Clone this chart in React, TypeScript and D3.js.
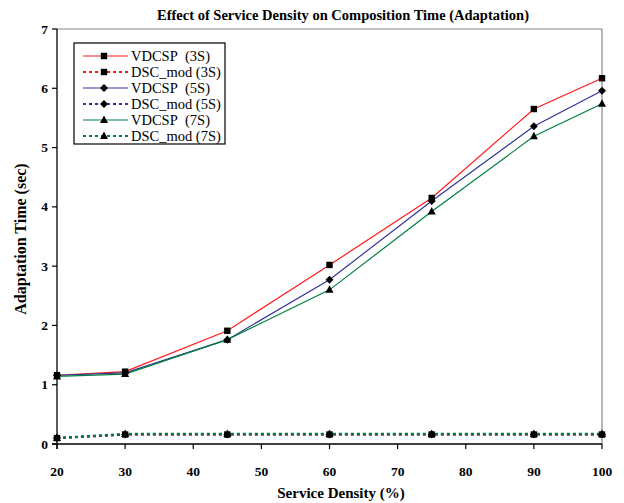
import React from "react";
import * as d3 from "d3";

const densities = [20, 30, 45, 60, 75, 90, 100];
const vdcsp3 = [1.16, 1.22, 1.91, 3.02, 4.15, 5.65, 6.17];
const vdcsp5 = [1.16, 1.2, 1.76, 2.77, 4.1, 5.36, 5.96];
const vdcsp7 = [1.14, 1.18, 1.76, 2.6, 3.92, 5.19, 5.74];
const dsc3 = [0.1, 0.16, 0.16, 0.16, 0.16, 0.16, 0.16];
const dsc5 = [0.1, 0.16, 0.16, 0.16, 0.16, 0.16, 0.16];
const dsc7 = [0.1, 0.17, 0.17, 0.17, 0.17, 0.17, 0.17];
const xTicks = [20, 30, 40, 50, 60, 70, 80, 90, 100];
const yTicks = [0, 1, 2, 3, 4, 5, 6, 7];

type Series = { name: string; values: number[]; color: string; dotted: boolean; marker: string };
const series: Series[] = [
  { name: "VDCSP\u00a0\u00a0(3S)", values: vdcsp3, color: "#ff1a1a", dotted: false, marker: "square" },
  { name: "DSC_mod (3S)", values: dsc3, color: "#ff1a1a", dotted: true, marker: "square" },
  { name: "VDCSP\u00a0\u00a0(5S)", values: vdcsp5, color: "#333399", dotted: false, marker: "diamond" },
  { name: "DSC_mod (5S)", values: dsc5, color: "#333399", dotted: true, marker: "diamond" },
  { name: "VDCSP\u00a0\u00a0(7S)", values: vdcsp7, color: "#00803c", dotted: false, marker: "triangle" },
  { name: "DSC_mod (7S)", values: dsc7, color: "#00803c", dotted: true, marker: "triangle" },
];

const W = 624, H = 503;
const L = 57, R = 602, T = 29, B = 444;
const FONT = "'Liberation Serif', 'DejaVu Serif', serif";

function Marker({ type, x, y }: { type: string; x: number; y: number }) {
  if (type === "square") return <rect x={x - 3.2} y={y - 3.2} width={6.4} height={6.4} fill="#000" />;
  if (type === "diamond") return <path d={`M${x},${y - 4}L${x + 4},${y}L${x},${y + 4}L${x - 4},${y}Z`} fill="#000" />;
  return <path d={`M${x},${y - 4.5}L${x + 4},${y + 3}L${x - 4},${y + 3}Z`} fill="#000" />;
}

export default function App() {
  const x = d3.scaleLinear().domain([20, 100]).range([L, R]);
  const y = d3.scaleLinear().domain([0, 7]).range([B, T]);
  const line = d3.line<number>().x((_, i) => x(densities[i])).y((d) => y(d));
  const order = [0, 2, 4, 1, 3, 5];
  const markerOrder = [4, 5, 2, 3, 0, 1];
  return (
    <svg width={W} height={H} style={{ position: "absolute", left: 0, top: 0, background: "#fff" }}>
      <rect width={W} height={H} fill="#fff" />
      <text x={343} y={20} textAnchor="middle" fontFamily={FONT} fontWeight="bold" fontSize={14.5}>
        Effect of Service Density on Composition Time (Adaptation)
      </text>
      <line x1={L} x2={R} y1={T} y2={T} stroke="#888" strokeWidth={1.2} />
      <line x1={R} x2={R} y1={T} y2={B} stroke="#888" strokeWidth={1.2} />
      {order.map((i) => {
        const s = series[i];
        return (
          <path key={i} d={line(s.values) || ""} fill="none" stroke={s.color}
            strokeWidth={s.dotted ? 2.2 : 1.2} strokeDasharray={s.dotted ? "3,3" : undefined} />
        );
      })}
      {markerOrder.map((i) => {
        const s = series[i];
        return s.values.map((v, j) => <Marker key={`${i}-${j}`} type={s.marker} x={x(densities[j])} y={y(v)} />);
      })}
      <line x1={L} x2={L} y1={T} y2={B + 5} stroke="#000" strokeWidth={1.3} />
      <line x1={L - 5} x2={R} y1={B} y2={B} stroke="#000" strokeWidth={1.3} />
      {xTicks.map((t) => (
        <g key={t}>
          <line x1={x(t)} x2={x(t)} y1={B} y2={B + 5} stroke="#000" strokeWidth={1.2} />
          <text x={x(t)} y={476} textAnchor="middle" fontFamily={FONT} fontWeight="bold" fontSize={13.5}>{t}</text>
        </g>
      ))}
      {yTicks.map((t) => (
        <g key={t}>
          <line x1={L - 5} x2={L} y1={y(t)} y2={y(t)} stroke="#000" strokeWidth={1.2} />
          <text x={48} y={y(t) + 4.5} textAnchor="end" fontFamily={FONT} fontWeight="bold" fontSize={13.5}>{t}</text>
        </g>
      ))}
      <text x={341} y={498} textAnchor="middle" fontFamily={FONT} fontWeight="bold" fontSize={15}>Service Density (%)</text>
      <text transform="translate(26,239) rotate(-90)" textAnchor="middle" fontFamily={FONT} fontWeight="bold" fontSize={16}>
        Adaptation Time (sec)
      </text>
      <rect x={74} y={43} width={151} height={101} fill="#fff" stroke="#000" strokeWidth={1.2} />
      {series.map((s, i) => {
        const ly = 56 + i * 16;
        return (
          <g key={s.name}>
            <line x1={83} x2={128} y1={ly} y2={ly} stroke={s.color}
              strokeWidth={s.dotted ? 2.2 : 1.2} strokeDasharray={s.dotted ? "3,3" : undefined} />
            <Marker type={s.marker} x={104} y={ly} />
            <text x={131} y={ly + 5} fontFamily={FONT} fontSize={14.5}>{s.name}</text>
          </g>
        );
      })}
    </svg>
  );
}
